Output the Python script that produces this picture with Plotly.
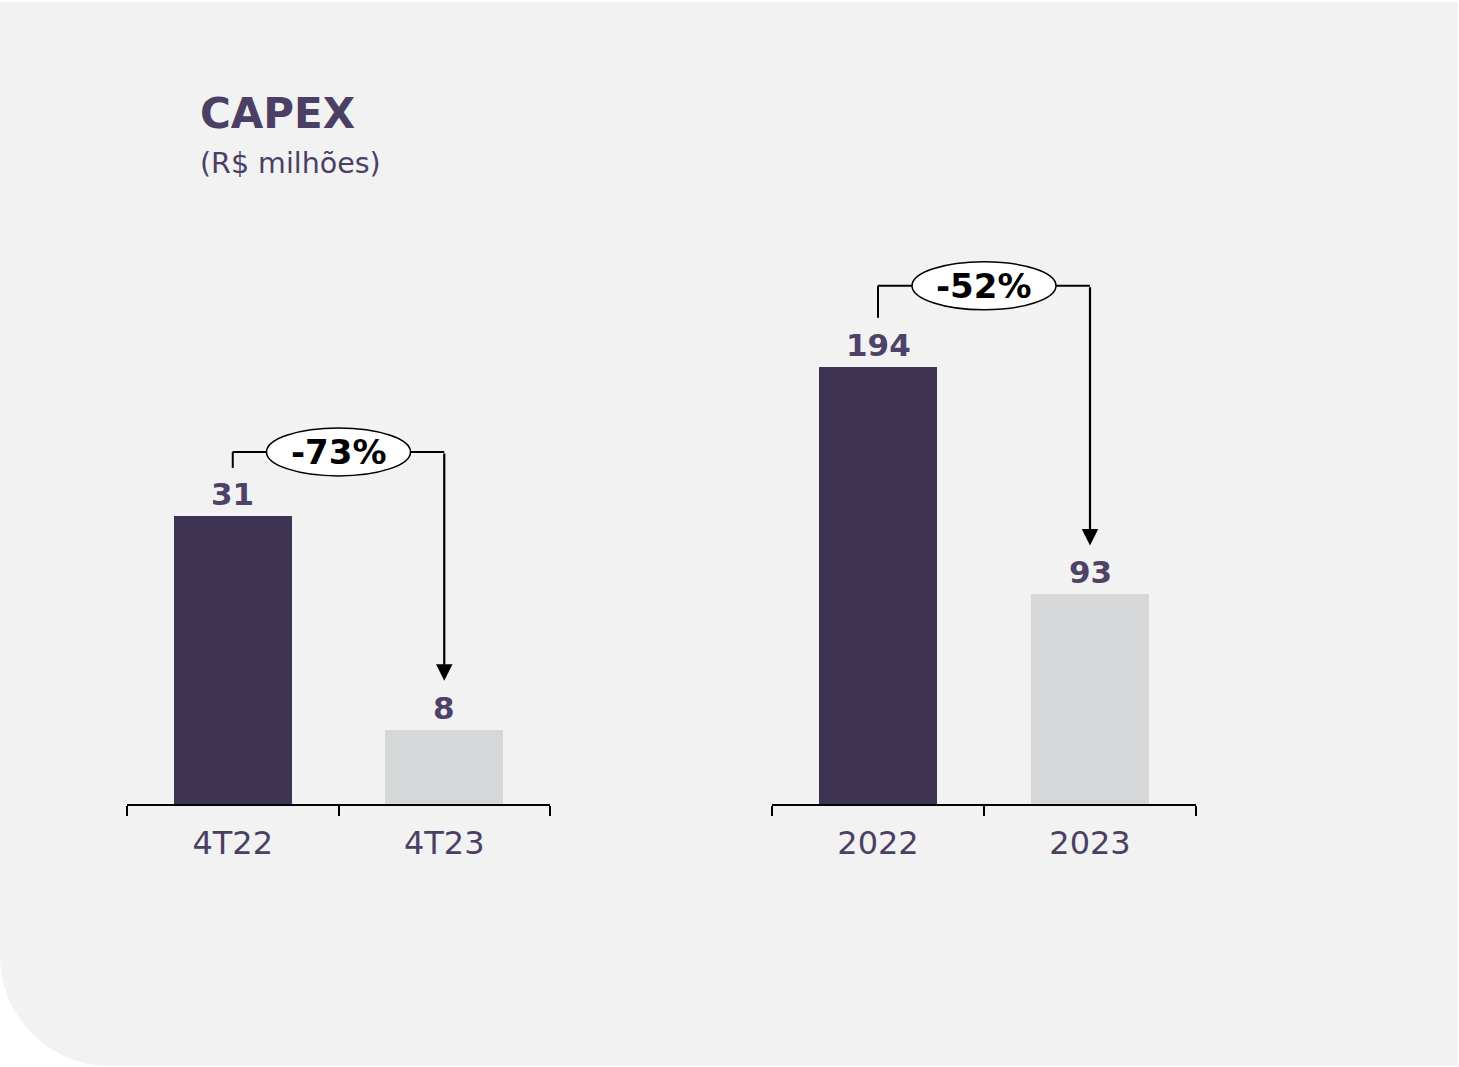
import plotly.graph_objects as go

# ---- data ----
categories_quarter = ["4T22", "4T23"]
capex_quarter = [31, 8]
categories_year = ["2022", "2023"]
capex_year = [194, 93]
change_labels = ["-73%", "-52%"]

title_text = "CAPEX"
subtitle_text = "(R$ milhões)"

# ---- styling / geometry ----
W, H = 1459, 1067
FONT = "DejaVu Sans"
DARK = "#3E3352"
LIGHT = "#D6D7D9"
TEXT = "#4B3F63"
LABEL = "#4E4268"
PANEL = "#F2F2F2"

y_domain = [0.2465, 0.8126]
x_domains = [[127 / W, 550 / W], [772 / W, 1196 / W]]
y_max = [65, 268]
plot_h = (y_domain[1] - y_domain[0]) * H

# bracket offsets above the bars, in pixels
stub_gap = [48, 49]
bracket_gap = [64, 81]
arrow_gap = [49, 49]

panels = [
    (categories_quarter, capex_quarter, change_labels[0]),
    (categories_year, capex_year, change_labels[1]),
]

fig = go.Figure()
shapes = []
annotations = []

# rounded background panel
rx, ry = 110 / W, 110 / H
top, right, bottom, left = 1 - 2 / H, 1458 / W, 1 - 1066 / H, 0.0
kappa = 0.5523
panel_path = (
    f"M {left},{top} L {right},{top} L {right},{bottom} "
    f"L {left + rx},{bottom} "
    f"C {left + rx * (1 - kappa)},{bottom} {left},{bottom + ry * (1 - kappa)} {left},{bottom + ry} Z"
)
shapes.append(dict(type="path", xref="paper", yref="paper", path=panel_path,
                   fillcolor=PANEL, line=dict(width=0), layer="below"))

for i, (cats, vals, change) in enumerate(panels):
    xa = "x" if i == 0 else "x2"
    ya = "y" if i == 0 else "y2"
    k = plot_h / y_max[i]  # pixels per unit

    fig.add_trace(go.Bar(
        x=cats, y=vals, xaxis=xa, yaxis=ya,
        marker=dict(color=[DARK, LIGHT], line=dict(width=0)),
        width=0.558, showlegend=False, hoverinfo="skip",
    ))

    # value labels
    for j, v in enumerate(vals):
        annotations.append(dict(
            x=j, y=v, xref=xa, yref=ya, text=f"<b>{v}</b>", showarrow=False,
            yanchor="bottom", xanchor="center", yshift=2,
            font=dict(family=FONT, size=31, color=LABEL),
        ))

    a, b = vals
    y_br = a + bracket_gap[i] / k
    line_style = dict(color="black", width=2)
    shapes.append(dict(type="line", xref=xa, yref=ya, x0=0, x1=0,
                       y0=a + stub_gap[i] / k, y1=y_br, line=line_style))
    shapes.append(dict(type="line", xref=xa, yref=ya, x0=0, x1=1,
                       y0=y_br, y1=y_br, line=line_style))
    annotations.append(dict(
        x=1, y=b + arrow_gap[i] / k, xref=xa, yref=ya,
        ax=1, ay=y_br, axref=xa, ayref=ya, text="", showarrow=True,
        arrowhead=2, arrowwidth=2.2, arrowsize=1.5, arrowcolor="black",
    ))
    shapes.append(dict(type="circle", xref=xa, yref=ya,
                       xsizemode="pixel", ysizemode="pixel",
                       xanchor=0.5, yanchor=y_br, x0=-72, x1=72, y0=-24, y1=24,
                       fillcolor="white", line=dict(color="black", width=1.5)))
    annotations.append(dict(
        x=0.5, y=y_br, xref=xa, yref=ya, text=f"<b>{change}</b>", showarrow=False,
        font=dict(family=FONT, size=34, color="black"),
    ))

axis_common = dict(
    type="category", range=[-0.5, 1.5], showline=True, linecolor="black", linewidth=2,
    ticks="outside", tickson="boundaries", ticklen=10, tickwidth=2, tickcolor="black",
    ticklabelstandoff=10,
    showgrid=False, zeroline=False, fixedrange=True,
    tickfont=dict(family=FONT, size=32, color=TEXT),
)
yaxis_common = dict(visible=False, showgrid=False, zeroline=False, fixedrange=True)

annotations.append(dict(
    x=198 / W, y=1 - 113 / H, xref="paper", yref="paper", xanchor="left", yanchor="middle",
    text=f"<b>{title_text}</b>", showarrow=False,
    font=dict(family=FONT, size=42, color=TEXT),
))
annotations.append(dict(
    x=198 / W, y=1 - 163 / H, xref="paper", yref="paper", xanchor="left", yanchor="middle",
    text=subtitle_text, showarrow=False,
    font=dict(family=FONT, size=28.5, color=TEXT),
))

fig.update_layout(
    width=W, height=H,
    margin=dict(l=0, r=0, t=0, b=0),
    paper_bgcolor="white", plot_bgcolor="rgba(0,0,0,0)",
    xaxis=dict(domain=x_domains[0], anchor="y", **axis_common),
    yaxis=dict(domain=y_domain, anchor="x", range=[0, y_max[0]], **yaxis_common),
    xaxis2=dict(domain=x_domains[1], anchor="y2", **axis_common),
    yaxis2=dict(domain=y_domain, anchor="x2", range=[0, y_max[1]], **yaxis_common),
    shapes=shapes, annotations=annotations, bargap=0,
)

fig.write_html("out.html")
